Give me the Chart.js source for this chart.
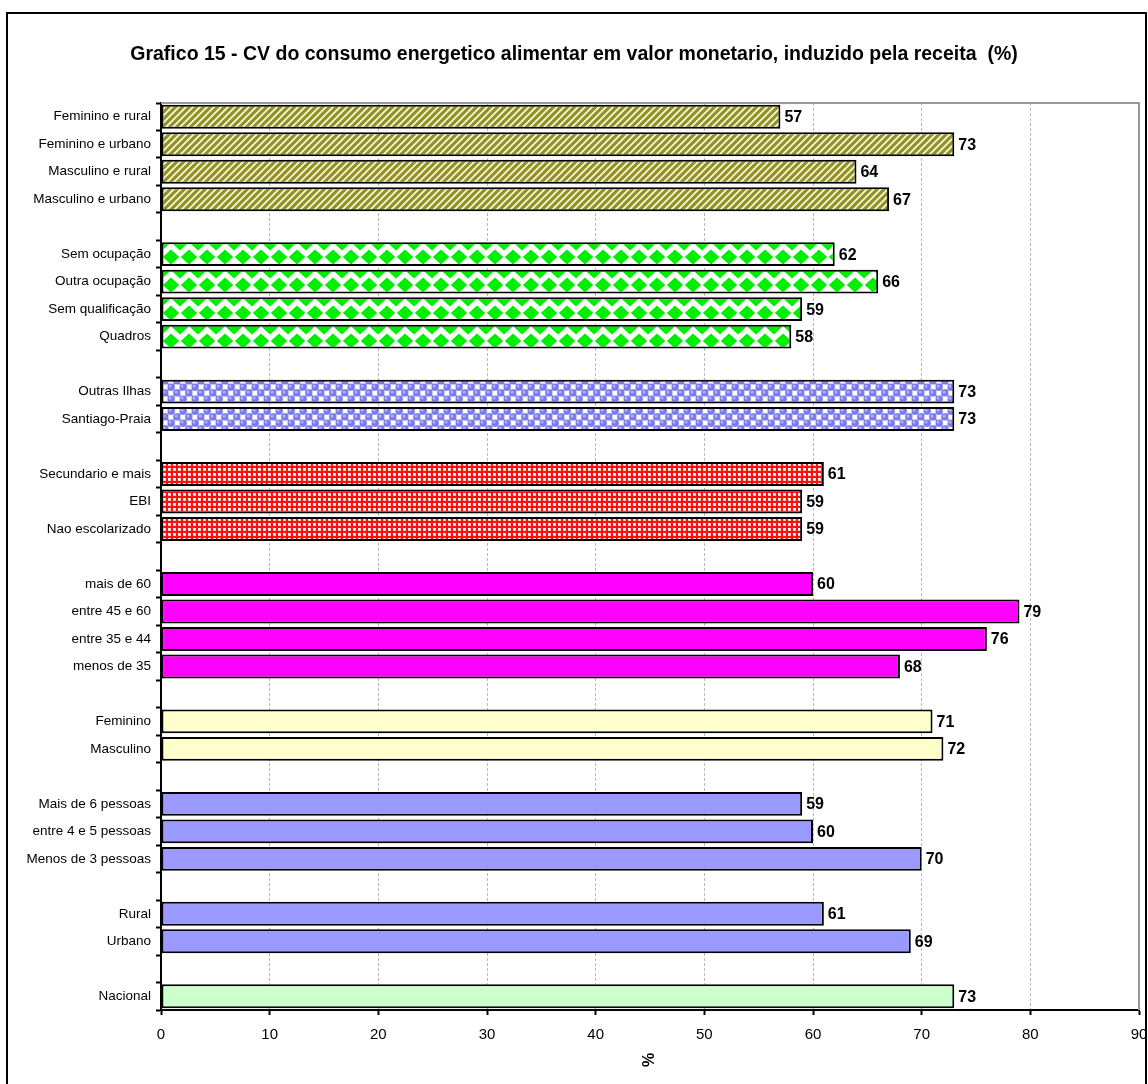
<!DOCTYPE html>
<html>
<head>
<meta charset="utf-8">
<script src="https://cdn.jsdelivr.net/npm/chart.js@4/dist/chart.umd.min.js"></script>
<style>
  html, body { margin: 0; padding: 0; background: #ffffff; }
  #wrap { position: relative; width: 1148px; height: 1084px; }
</style>
</head>
<body>
<div id="wrap"><canvas id="chart" width="1148" height="1084"></canvas></div>
<script>
// Categories, top to bottom; empty strings are spacer rows between groups
const categories = [
  'Feminino e rural', 'Feminino e urbano', 'Masculino e rural', 'Masculino e urbano', '',
  'Sem ocupação', 'Outra ocupação', 'Sem qualificação', 'Quadros', '',
  'Outras Ilhas', 'Santiago-Praia', '',
  'Secundario e mais', 'EBI', 'Nao escolarizado', '',
  'mais de 60', 'entre 45 e 60', 'entre 35 e 44', 'menos de 35', '',
  'Feminino', 'Masculino', '',
  'Mais de 6 pessoas', 'entre 4 e 5 pessoas', 'Menos de 3 pessoas', '',
  'Rural', 'Urbano', '',
  'Nacional'
];

// CV values (%) for each row; null for spacer rows
const cvValues = [
  57, 73, 64, 67, null,
  62, 66, 59, 58, null,
  73, 73, null,
  61, 59, 59, null,
  60, 79, 76, 68, null,
  71, 72, null,
  59, 60, 70, null,
  61, 69, null,
  73
];

// Fill style key for each row
const fillKeys = [
  'stripe', 'stripe', 'stripe', 'stripe', null,
  'diamond', 'diamond', 'diamond', 'diamond', null,
  'sphere', 'sphere', null,
  'check', 'check', 'check', null,
  'magenta', 'magenta', 'magenta', 'magenta', null,
  'cream', 'cream', null,
  'blue', 'blue', 'blue', null,
  'blue', 'blue', null,
  'mint'
];

const xTicks = [0, 10, 20, 30, 40, 50, 60, 70, 80, 90];

const FONT = '"Liberation Sans", Arial, sans-serif';

function makeTile(w, h, draw) {
  const c = document.createElement('canvas');
  c.width = w; c.height = h;
  const g = c.getContext('2d');
  draw(g, w, h);
  return document.getElementById('chart').getContext('2d').createPattern(c, 'repeat');
}

const fills = {
  stripe: makeTile(7, 7, (g, w, h) => {
    for (let y = 0; y < h; y++) {
      for (let x = 0; x < w; x++) {
        const k = (x + y) % 7;
        g.fillStyle = k < 4 ? '#929226' : (k === 4 || k === 6 ? '#dcdca6' : '#fbfbe8');
        g.fillRect(x, y, 1, 1);
      }
    }
  }),
  diamond: makeTile(18, 28, (g, w, h) => {
    g.fillStyle = '#ffffff';
    g.fillRect(0, 0, w, h);
    g.fillStyle = '#00ee00';
    const centers = [[9, 5], [0, 19], [18, 19]];
    for (const [cx, cy] of centers) {
      for (const dy of [-h, 0, h]) {
        g.beginPath();
        g.moveTo(cx, cy + dy - 7.5);
        g.lineTo(cx + 8.2, cy + dy);
        g.lineTo(cx, cy + dy + 7.5);
        g.lineTo(cx - 8.2, cy + dy);
        g.closePath();
        g.fill();
      }
    }
  }),
  sphere: makeTile(12, 12, (g, w, h) => {
    g.fillStyle = '#c4c4fa';
    g.fillRect(0, 0, w, h);
    g.fillStyle = '#ffffff';
    g.fillRect(7, 1, 4, 4);
    g.fillRect(1, 7, 4, 4);
    const pts = [[3, 3], [9, 9]];
    for (const [cx, cy] of pts) {
      g.fillStyle = '#7a7aea';
      g.beginPath(); g.arc(cx, cy, 3.8, 0, Math.PI * 2); g.fill();
      g.fillStyle = '#b0b0f8';
      g.beginPath(); g.arc(cx - 0.9, cy - 1, 1.5, 0, Math.PI * 2); g.fill();
    }
  }),
  check: makeTile(5, 5, (g, w, h) => {
    g.fillStyle = '#ff1010';
    g.fillRect(0, 0, w, h);
    g.fillStyle = '#ffffff';
    g.fillRect(3, 3, 2, 2);
    g.fillStyle = '#ffc8c8';
    g.fillRect(0, 0, 1, 1);
    g.fillRect(3, 0, 2, 1);
    g.fillRect(0, 3, 1, 2);
  }),
  magenta: '#ff00ff',
  cream: '#ffffcc',
  blue: '#9999ff',
  mint: '#ccffcc'
};

const barColors = fillKeys.map(k => (k ? fills[k] : 'rgba(0,0,0,0)'));

const framePlugin = {
  id: 'frame',
  beforeDraw(chart) {
    const ctx = chart.ctx;
    ctx.save();
    ctx.fillStyle = '#ffffff';
    ctx.fillRect(0, 0, chart.width, chart.height);
    ctx.strokeStyle = '#000000';
    ctx.lineWidth = 2;
    ctx.strokeRect(7, 13, 1139, 1090);
    // title
    ctx.fillStyle = '#000000';
    ctx.font = 'bold 19.5px ' + FONT;
    ctx.textAlign = 'center';
    ctx.textBaseline = 'middle';
    ctx.fillText('Grafico 15 - CV do consumo energetico alimentar em valor monetario, induzido pela receita  (%)', 574, 55);
    ctx.restore();
  },
  beforeDatasetsDraw(chart) {
    const a = chart.chartArea;
    const ctx = chart.ctx;
    ctx.save();
    ctx.strokeStyle = '#999999';
    ctx.lineWidth = 2;
    ctx.beginPath();
    ctx.moveTo(a.left, a.top);
    ctx.lineTo(a.right, a.top);
    ctx.lineTo(a.right, a.bottom);
    ctx.stroke();
    ctx.restore();
  },
  afterDatasetsDraw(chart) {
    const ctx = chart.ctx;
    const meta = chart.getDatasetMeta(0);
    ctx.save();
    ctx.fillStyle = '#000000';
    ctx.font = 'bold 16px ' + FONT;
    ctx.textAlign = 'left';
    ctx.textBaseline = 'middle';
    meta.data.forEach((bar, i) => {
      const v = cvValues[i];
      if (v === null) return;
      ctx.fillText(String(v), bar.x + 4, bar.y + 1);
    });
    // x axis title, rotated
    const a = chart.chartArea;
    ctx.font = 'bold 16px ' + FONT;
    ctx.textAlign = 'center';
    ctx.translate((a.left + a.right) / 2, 1060);
    ctx.rotate(-Math.PI / 2);
    ctx.fillText('%', 0, 0);
    ctx.restore();
  }
};

new Chart(document.getElementById('chart'), {
  type: 'bar',
  data: {
    labels: categories,
    datasets: [{
      data: cvValues,
      backgroundColor: barColors,
      borderColor: '#000000',
      borderWidth: 2,
      borderSkipped: false,
      barPercentage: 0.87,
      categoryPercentage: 1.0
    }]
  },
  options: {
    indexAxis: 'y',
    responsive: false,
    animation: false,
    events: [],
    layout: { padding: { left: 0, top: 103, right: 9, bottom: 34 } },
    plugins: {
      legend: { display: false },
      title: { display: false },
      tooltip: { enabled: false }
    },
    scales: {
      x: {
        type: 'linear',
        min: xTicks[0],
        max: xTicks[xTicks.length - 1],
        afterBuildTicks(scale) { scale.ticks = xTicks.map(v => ({ value: v })); },
        afterFit(scale) {
          scale.height = 40;
          scale.paddingLeft = 0;
          scale.paddingRight = 0;
        },
        ticks: {
          color: '#000000',
          font: { family: FONT, size: 15 },
          padding: 11,
          maxRotation: 0
        },
        grid: {
          color: '#b8b8b8',
          lineWidth: 1,
          tickColor: '#000000',
          tickLength: 5,
          tickWidth: 2,
          tickBorderDash: []
        },
        border: { color: '#000000', width: 2, dash: [3, 2] }
      },
      y: {
        type: 'category',
        afterFit(scale) {
          scale.width = 161;
          scale.paddingTop = 0;
          scale.paddingBottom = 0;
        },
        ticks: {
          color: '#000000',
          font: { family: FONT, size: 13.5 },
          autoSkip: false,
          padding: 5
        },
        grid: {
          drawOnChartArea: false,
          offset: true,
          tickColor: '#000000',
          tickLength: 5,
          tickWidth: 2
        },
        border: { color: '#000000', width: 2 }
      }
    }
  },
  plugins: [framePlugin]
});
</script>
</body>
</html>
